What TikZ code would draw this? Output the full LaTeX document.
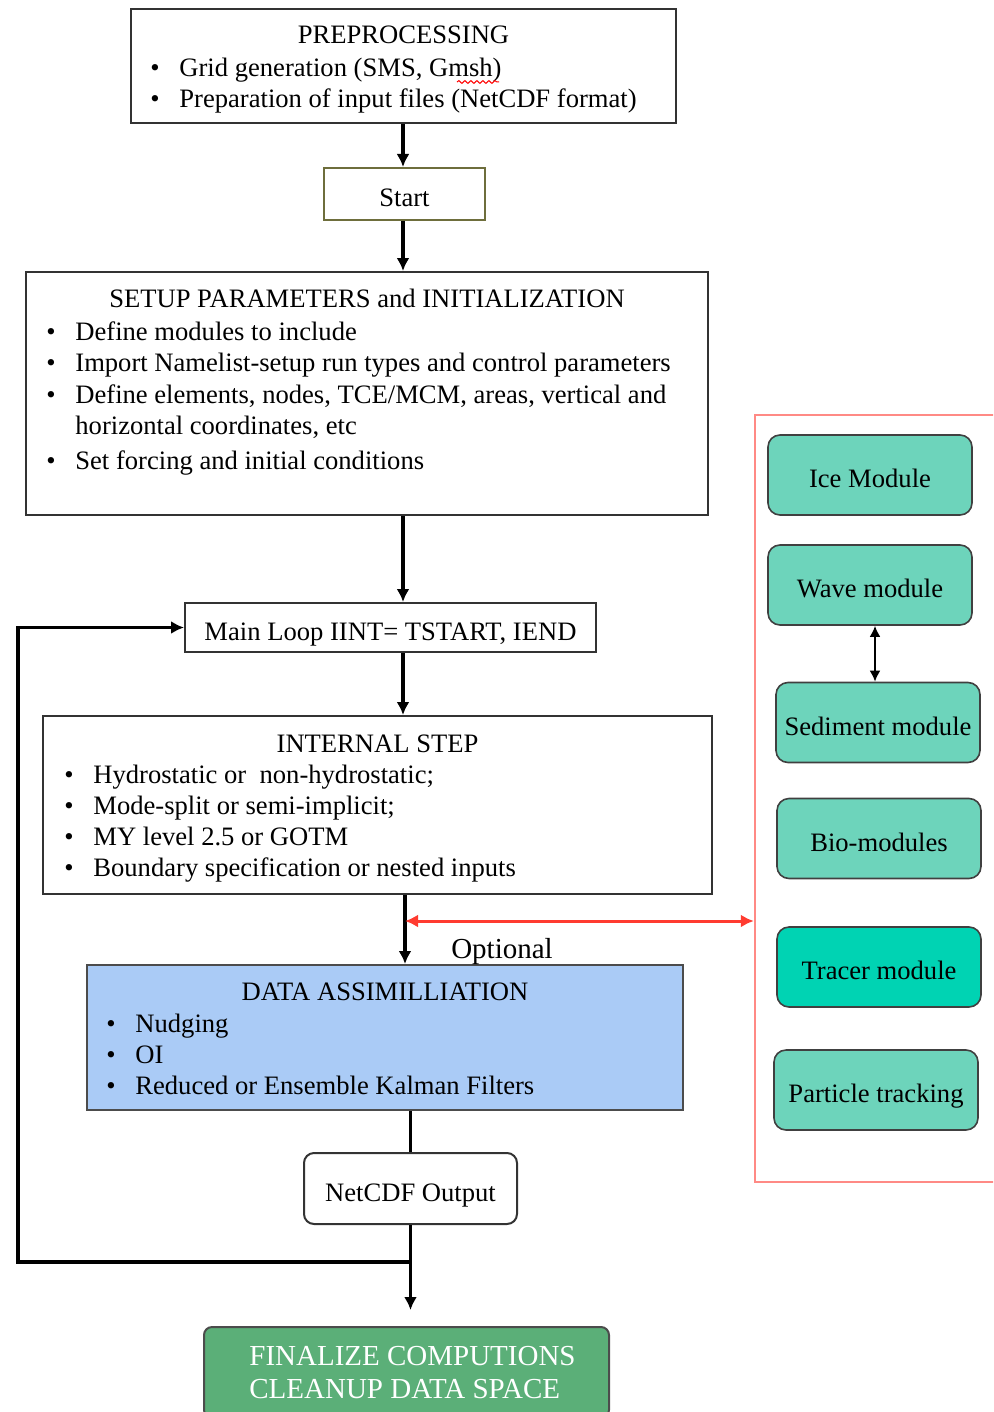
\documentclass[tikz,border=0pt]{standalone}
\usepackage{fontspec}
\setmainfont{Liberation Serif}
\usetikzlibrary{arrows.meta, decorations.pathmorphing}

\definecolor{modTeal}{HTML}{6DD4BB}
\definecolor{tracerTeal}{HTML}{00D3B3}
\definecolor{daBlue}{HTML}{AACBF6}
\definecolor{finGreen}{HTML}{5BAF78}
\definecolor{optRed}{HTML}{FF3B30}
\definecolor{frameRed}{HTML}{FF8A85}
\definecolor{startOlive}{HTML}{6E6E3C}

\newcommand{\bul}{\makebox[14.5pt][l]{\textbullet}}

\begin{document}
\begin{tikzpicture}[x=0.5pt, y=-0.5pt, font=\fontsize{13.3}{15.5}\selectfont]
\tikzset{
    plain/.style={rectangle, draw=black!80, line width=1pt, inner sep=0pt},
    oneLine/.style={text height=12.5pt, text depth=0pt},
    startBox/.style={plain, oneLine, draw=startOlive},
    daBox/.style={plain, fill=daBlue, draw=black!70},
    outBox/.style={plain, oneLine, rounded corners=5pt},
    finBox/.style={plain, rounded corners=4pt, fill=finGreen, draw=black!70, text=white, align=left, font=\fontsize{14.5}{16.5}\selectfont},
    module/.style={rectangle, oneLine, inner sep=0pt, rounded corners=6pt, fill=modTeal, draw=black!75, line width=0.8pt, minimum width=102pt, minimum height=40pt},
    frameBox/.style={rectangle, draw=frameRed, line width=1.2pt},
    title/.style={anchor=base, inner sep=0pt},
    items/.style={anchor=north west, align=left, inner sep=0pt},
    flow/.style={-{Latex[length=6.5pt, width=6.5pt]}, line width=1.6pt},
    optArrow/.style={{Latex[length=6.5pt, width=6.5pt]}-{Latex[length=6.5pt, width=6.5pt]}, line width=1.5pt, draw=optRed}
}
\clip (0,0) rectangle (993,1412);

% main column
\node[plain, minimum width=272.5pt, minimum height=57pt]      (pre)      at (403.5,66)  {};
\node[title]                                                   (preT)     at (403.5,44)  {PREPROCESSING};
\node[items]                                                   (preL)     at (150,58)    {\bul Grid generation (SMS, Gmsh)\\
                                                                                          \bul Preparation of input files (NetCDF format)};

\node[startBox, minimum width=80.5pt, minimum height=26pt]    (start)    at (404.5,194) {Start};

\node[plain, minimum width=341pt, minimum height=121.5pt]     (setup)    at (367,393.5) {};
\node[title]                                                   (setupT)   at (367,307)   {SETUP PARAMETERS and INITIALIZATION};
\node[items, font=\fontsize{13.3}{15.75}\selectfont]           (setupL)   at (46,321)    {\bul Define modules to include\\
                                                                                          \bul Import Namelist-setup run types and control parameters\\
                                                                                          \bul Define elements, nodes, TCE/MCM, areas, vertical and\\
                                                                                          \hspace*{14.5pt}horizontal coordinates, etc\\[1.5pt]
                                                                                          \bul Set forcing and initial conditions};

\node[plain, oneLine, minimum width=205.5pt, minimum height=24.5pt] (loop) at (390.5,627.5) {Main Loop IINT= TSTART, IEND};

\node[plain, minimum width=334.5pt, minimum height=89pt]      (internal) at (377.5,805) {};
\node[title]                                                   (internalT) at (377.5,752) {INTERNAL STEP};
\node[items]                                                   (internalL) at (64,765)   {\bul Hydrostatic or\ \ non-hydrostatic;\\
                                                                                          \bul Mode-split or semi-implicit;\\
                                                                                          \bul MY level 2.5 or GOTM\\
                                                                                          \bul Boundary specification or nested inputs};

\node[daBox, minimum width=298pt, minimum height=72.5pt]      (assim)    at (385,1037.5) {};
\node[title]                                                   (assimT)   at (385,1000)  {DATA ASSIMILLIATION};
\node[items]                                                   (assimL)   at (106,1014)  {\bul Nudging\\
                                                                                          \bul OI\\
                                                                                          \bul Reduced or Ensemble Kalman Filters};
\node[title, font=\fontsize{14.5}{17}\selectfont]              (opt)      at (502,958)   {Optional};

\node[outBox, minimum width=106.5pt, minimum height=35.5pt]   (output)   at (410.5,1188.5) {NetCDF Output};

\node[finBox, minimum width=202.5pt, minimum height=45.5pt]   (final)    at (406.5,1372.5) {\hspace*{6pt}FINALIZE COMPUTIONS\\\hspace*{6pt}CLEANUP DATA SPACE};

% optional modules
\node[frameBox, minimum width=125pt, minimum height=383.5pt]  (extra)    at (880,798.5) {};
\node[module]                      (ice)      at (870,475)   {Ice Module};
\node[module]                      (wave)     at (870,585)   {Wave module};
\node[module]                      (sed)      at (878,722.5) {Sediment module};
\node[module]                      (bio)      at (879,838.5) {Bio-modules};
\node[module, fill=tracerTeal]     (tracer)   at (879,967)   {Tracer module};
\node[module]                      (particle) at (876,1090)  {Particle tracking};

% spell-check squiggle under Gmsh
\draw[red, line width=0.5pt, decorate, decoration={snake, amplitude=0.7pt, segment length=3pt}] (457,82) -- (499,82);

% arrows
\coordinate (spine) at (403,0);
\coordinate (tap)   at (405,921);
\coordinate (back)  at (18,1262);
\coordinate (ws)    at (875,0);

\draw[flow] (pre.south -| spine) -- (start.north -| spine);
\draw[flow] (start.south -| spine) -- (setup.north -| spine);
\draw[flow] (setup.south -| spine) -- (loop.north -| spine);
\draw[flow] (loop.south -| spine) -- (internal.north -| spine);
\draw[flow] (internal.south -| tap) -- (assim.north -| tap);
\draw[optArrow] (tap) -- (tap -| extra.west);
\draw[line width=1.6pt] (assim.south -| output.north) -- (output.north);
\draw[flow, shorten >=8pt] (output.south) -- (output.south |- final.north);
\draw[flow] (output.south |- back) -- (back) |- (loop.west);
\draw[{Latex[length=5.5pt, width=5.5pt]}-{Latex[length=5.5pt, width=5.5pt]}, line width=1.1pt] (wave.south -| ws) -- (sed.north -| ws);

\end{tikzpicture}
\end{document}
